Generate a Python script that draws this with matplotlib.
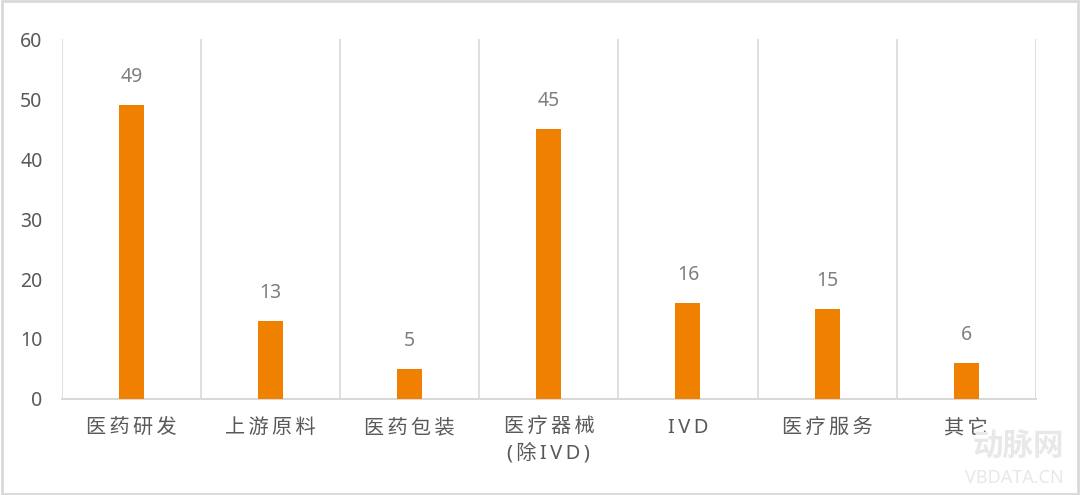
import matplotlib.pyplot as plt
import numpy as np

plt.rcParams['font.family'] = ['Noto Sans', 'Noto Sans CJK SC', 'DejaVu Sans']

categories = ["医药研发", "上游原料", "医药包装", "医疗器械\n(除IVD)", "IVD", "医疗服务", "其它"]
values = [49, 13, 5, 45, 16, 15, 6]
y_ticks = [0, 10, 20, 30, 40, 50, 60]

bar_color = "#F08000"
grid_color = "#D9D9D9"
text_color = "#595959"


def spaced(label):
    # the reference labels have wide letter spacing
    return "\n".join("\u2009".join(line) for line in label.split("\n"))


fig = plt.figure(figsize=(10.8, 4.95), dpi=100)
ax = fig.add_axes([0.0574, 0.194, 0.9016, 0.727])

x = np.arange(len(categories))
ax.bar(x, values, width=0.18, color=bar_color, zorder=3)
for xi, v in zip(x, values):
    ax.text(xi, v + 3.0, str(v), ha="center", va="bottom", fontsize=14, color="#7F7F7F")

for b in np.arange(-0.5, len(categories), 1.0):
    ax.axvline(b, color=grid_color, linewidth=1.2, zorder=1)

ax.set_xlim(-0.5, len(categories) - 0.5)
ax.set_ylim(0, 60)
ax.set_yticks(y_ticks)
ax.set_xticks(x)
ax.set_xticklabels([spaced(c) for c in categories], fontsize=14.5, color=text_color, linespacing=1.3)
ax.tick_params(axis="both", length=0, colors=text_color)
ax.tick_params(axis="y", labelsize=14, pad=14)
ax.tick_params(axis="x", pad=14)
for lab in ax.get_xticklabels():
    lab.set_verticalalignment("top")

for side in ["top", "right", "left"]:
    ax.spines[side].set_visible(False)
ax.spines["bottom"].set_color(grid_color)
ax.spines["bottom"].set_linewidth(1.5)

# watermark
fig.text(0.985, 0.095, "动脉网", ha="right", va="center", fontsize=22, color="#E8E8E8",
         fontweight="bold", zorder=0)
fig.text(0.985, 0.035, "VBDATA.CN", ha="right", va="center", fontsize=13, color="#E8E8E8", zorder=0)

# light border around the picture
fig.patches.append(plt.Rectangle((0.002, 0.003), 0.996, 0.994, transform=fig.transFigure,
                                 fill=False, edgecolor="#D9D9D9", linewidth=2))

fig.savefig("out.png", dpi=100)
